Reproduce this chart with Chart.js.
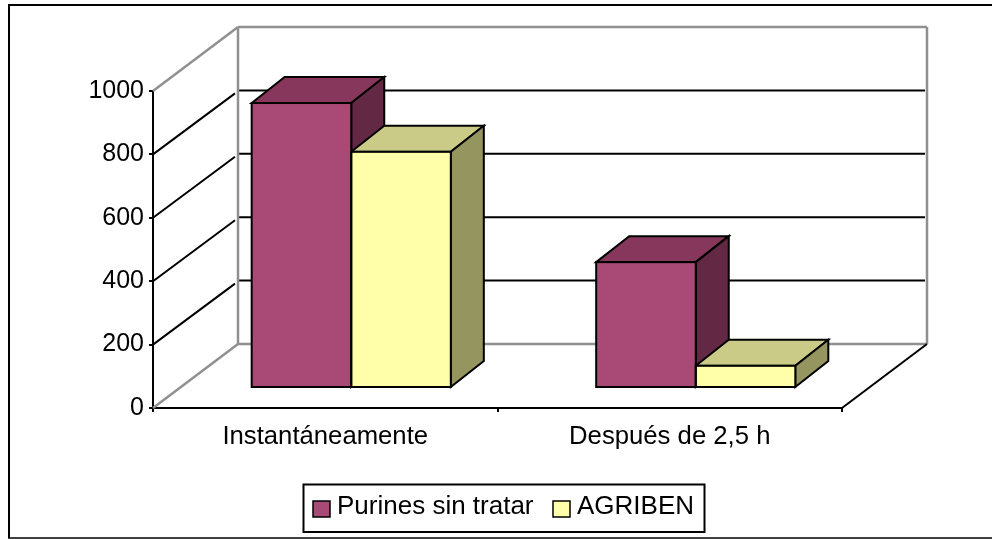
<!DOCTYPE html>
<html>
<head>
<meta charset="utf-8">
<style>
  html, body { margin: 0; padding: 0; background: #fff; }
  #wrap { width: 992px; height: 539px; }
</style>
</head>
<body>
<div id="wrap"><canvas id="myChart" width="992" height="539"></canvas></div>
<script src="https://cdn.jsdelivr.net/npm/chart.js@4"></script>
<script>
const categories = ['Instantáneamente', 'Después de 2,5 h'];
const purines = [899, 397];
const agriben = [745, 70];
const seriesNames = ['Purines sin tratar', 'AGRIBEN'];
const yTicks = [0, 200, 400, 600, 800, 1000];

const frontColors = ['#A94A76', '#FFFFAA'];
const topColors = ['#87365C', '#CBCB88'];
const sideColors = ['#622844', '#95955F'];

const FONT = '"Liberation Sans", Arial, sans-serif';
// depth of the box and of the bars, in pixels
const wallDx = 85, wallDy = 64;
const barShiftX = 26, barShiftY = 20;
const barDx = 33, barDy = 26;

function line(ctx, x1, y1, x2, y2, color, width) {
  ctx.strokeStyle = color;
  ctx.lineWidth = width;
  ctx.beginPath();
  ctx.moveTo(x1, y1);
  ctx.lineTo(x2, y2);
  ctx.stroke();
}

function poly(ctx, pts, fill) {
  ctx.fillStyle = fill;
  ctx.strokeStyle = '#000';
  ctx.lineWidth = 2;
  ctx.lineJoin = 'miter';
  ctx.beginPath();
  pts.forEach((p, i) => i ? ctx.lineTo(p[0], p[1]) : ctx.moveTo(p[0], p[1]));
  ctx.closePath();
  ctx.fill();
  ctx.stroke();
}

const box3d = {
  id: 'box3d',
  beforeDraw(chart) {
    // outer frame of the picture
    const ctx = chart.ctx;
    line(ctx, 8, 5, 992, 5, '#000', 2);
    line(ctx, 9, 4, 9, 538, '#000', 2);
    line(ctx, 8, 538, 992, 538, '#000', 1.5);
  },
  beforeDatasetsDraw(chart) {
    const ctx = chart.ctx;
    const { left, right } = chart.chartArea;
    const y = chart.scales.y;
    const grey = '#909090';
    ctx.save();

    // grid on the back wall and on the left wall
    yTicks.slice(1, -1).forEach(v => {
      const py = y.getPixelForValue(v);
      line(ctx, left + wallDx + 1, py - wallDy, right + wallDx - 2, py - wallDy, '#000', 2);
      line(ctx, left, py, left + wallDx - 3, py - wallDy + 3, '#000', 2);
    });

    // edges of the box
    const y0 = y.getPixelForValue(0), yMax = y.getPixelForValue(1000);
    line(ctx, left, yMax, left + wallDx, yMax - wallDy, grey, 2.5);
    line(ctx, left, y0, left + wallDx, y0 - wallDy, grey, 2.5);
    line(ctx, left + wallDx, yMax - wallDy, right + wallDx, yMax - wallDy, grey, 2.5);
    line(ctx, left + wallDx, y0 - wallDy, right + wallDx, y0 - wallDy, grey, 2.5);
    line(ctx, left + wallDx, yMax - wallDy, left + wallDx, y0 - wallDy, grey, 2.5);
    line(ctx, right + wallDx, yMax - wallDy, right + wallDx, y0 - wallDy, grey, 2.5);
    line(ctx, right, y0, right + wallDx, y0 - wallDy, '#000', 2);

    // top and side faces of the bars, the front faces are the real bars
    chart.data.datasets.forEach((ds, i) => {
      chart.getDatasetMeta(i).data.forEach(bar => {
        const l = bar.x - bar.width / 2 + barShiftX;
        const r = bar.x + bar.width / 2 + barShiftX;
        const t = bar.y - barShiftY;
        const b = bar.base - barShiftY;
        poly(ctx, [[l, t], [l + barDx, t - barDy], [r + barDx, t - barDy], [r, t]], topColors[i]);
        poly(ctx, [[r, t], [r + barDx, t - barDy], [r + barDx, b - barDy], [r, b]], sideColors[i]);
      });
    });
    ctx.restore();

    ctx.save();
    ctx.translate(barShiftX, -barShiftY);
  },
  afterDatasetsDraw(chart) {
    const ctx = chart.ctx;
    // outline of the front faces, centred on the bar edge
    ctx.strokeStyle = '#000';
    ctx.lineWidth = 2;
    chart.data.datasets.forEach((ds, i) => {
      chart.getDatasetMeta(i).data.forEach(bar => {
        ctx.strokeRect(bar.x - bar.width / 2, bar.y, bar.width, bar.base - bar.y);
      });
    });
    ctx.restore();
  },
  afterDraw(chart) {
    // framed legend
    const ctx = chart.ctx;
    ctx.save();
    ctx.strokeStyle = '#000';
    ctx.lineWidth = 2;
    ctx.strokeRect(303.5, 484.5, 401, 47.5);
    ctx.font = '26px ' + FONT;
    ctx.textBaseline = 'alphabetic';
    ctx.textAlign = 'left';
    const swatchX = [313, 553];
    const textX = [337, 577];
    chart.data.datasets.forEach((ds, i) => {
      ctx.fillStyle = ds.backgroundColor;
      ctx.fillRect(swatchX[i], 501, 17, 16);
      ctx.lineWidth = 1.5;
      ctx.strokeRect(swatchX[i], 501, 17, 16);
      ctx.fillStyle = '#000';
      ctx.fillText(ds.label, textX[i], 514);
    });
    ctx.restore();
  }
};

new Chart(document.getElementById('myChart'), {
  type: 'bar',
  data: {
    labels: categories,
    datasets: [
      { label: seriesNames[0], data: purines, backgroundColor: frontColors[0] },
      { label: seriesNames[1], data: agriben, backgroundColor: frontColors[1] }
    ]
  },
  options: {
    responsive: false,
    animation: false,
    layout: { padding: { top: 91, right: 150, left: 0, bottom: 0 } },
    datasets: {
      bar: {
        categoryPercentage: 0.578,
        barPercentage: 1,
        borderWidth: 0,
        clip: false
      }
    },
    plugins: {
      legend: { display: false },
      title: { display: false },
      tooltip: { enabled: false }
    },
    scales: {
      x: {
        afterFit(scale) { scale.height = 131; },
        grid: { drawOnChartArea: false, tickLength: 4, color: '#000', lineWidth: 2 },
        border: { color: '#000', width: 2 },
        ticks: { color: '#000', font: { family: FONT, size: 25.7 }, padding: 9, maxRotation: 0 }
      },
      y: {
        min: 0,
        max: 1000,
        afterFit(scale) { scale.width = 153; },
        afterBuildTicks(scale) { scale.ticks = yTicks.map(v => ({ value: v })); },
        grid: { drawOnChartArea: false, tickLength: 4, color: '#000', lineWidth: 2 },
        border: { color: '#000', width: 2 },
        ticks: {
          color: '#000',
          font: { family: FONT, size: 25 },
          padding: 5,
          callback: v => String(v)
        }
      }
    }
  },
  plugins: [box3d]
});
</script>
</body>
</html>
